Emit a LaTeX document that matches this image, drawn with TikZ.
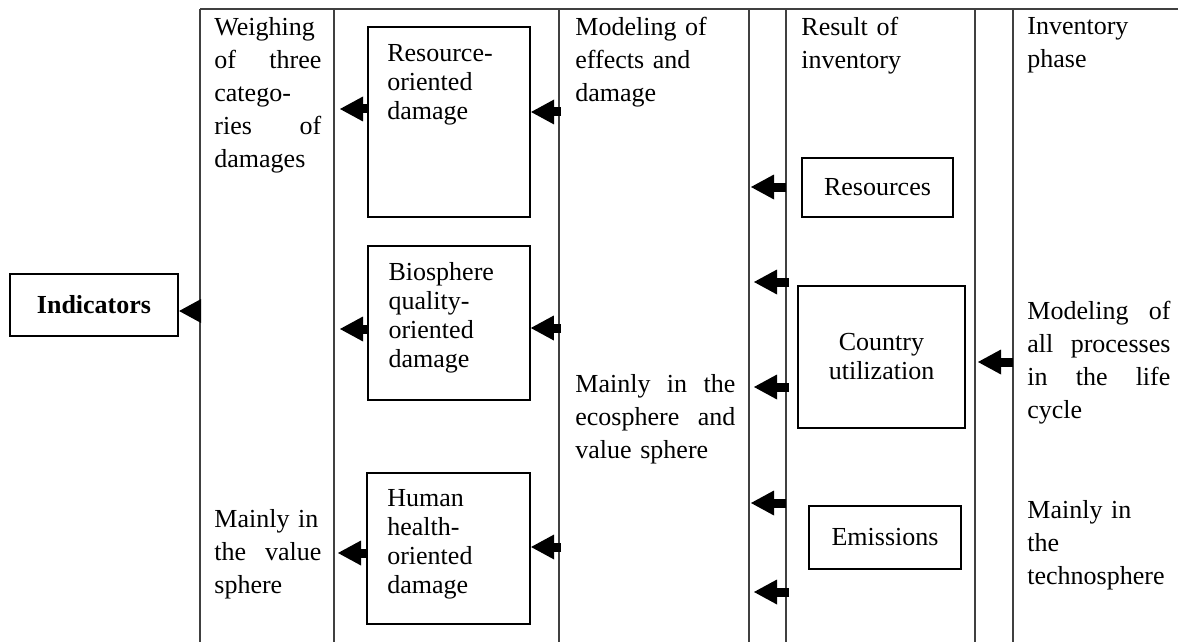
\documentclass[tikz,border=0pt]{standalone}
\usepackage{fontspec}
\setmainfont{Liberation Serif}
\usepackage{tikz}
\usetikzlibrary{arrows.meta}
\setlength{\parindent}{0pt}

\begin{document}
\begin{tikzpicture}[x = 0.5pt, y = -0.5pt,
	coluna/.style  = {line width = 0.6pt, black!75},
	caixa/.style   = {draw, black, line width = 1.1pt, inner sep = 0pt, font = \fontsize{13}{14.5}\selectfont},
	texto/.style   = {anchor = north west, inner sep = 0pt, align = left, font = \fontsize{13}{16.5}\selectfont},
	textocx/.style = {anchor = north west, inner sep = 0pt, align = left, font = \fontsize{13}{14.5}\selectfont},
	seta/.style    = {line width = 4.5pt, -{Triangle[length = 11.5pt, width = 12.5pt, line width = 0pt]}},
	ponta/.style   = {line width = 0.1pt, -{Triangle[length = 11pt, width = 12pt, line width = 0pt]}}]

	\useasboundingbox (0, 0) rectangle (1178, 642);

	% Colunas
	\draw[coluna] ( 200, 9) -- (1178,   9);
	\draw[coluna] ( 200, 9) -- ( 200, 642);
	\draw[coluna] ( 334, 9) -- ( 334, 642);
	\draw[coluna] ( 559, 9) -- ( 559, 642);
	\draw[coluna] ( 749, 9) -- ( 749, 642);
	\draw[coluna] ( 786, 9) -- ( 786, 642);
	\draw[coluna] ( 975, 9) -- ( 975, 642);
	\draw[coluna] (1013, 9) -- (1013, 642);

	% Caixas
	\node[caixa, minimum width = 84pt,   minimum height = 31pt]   (ind) at (  94, 305)   {\bfseries Indicators};
	\node[caixa, minimum width = 81pt,   minimum height = 95pt]   (res) at ( 449, 122)   {};
	\node[caixa, minimum width = 80.75pt, minimum height = 77pt]  (bio) at ( 449, 323)   {};
	\node[caixa, minimum width = 81.5pt, minimum height = 75.5pt] (hum) at ( 448.5, 548.5) {};
	\node[caixa, minimum width = 75.5pt, minimum height = 29.5pt] (rsc) at ( 877.5, 187.5) {Resources};
	\node[caixa, minimum width = 83.5pt, minimum height = 71pt, align = center] (cty) at ( 881.5, 357) {Country\\utilization};
	\node[caixa, minimum width = 76pt,   minimum height = 31.5pt] (ems) at ( 885, 537.5) {Emissions};

	\node[textocx] (restxt) at ([shift = {(20, 18)}]res.north west) {Resource-\\oriented\\damage};
	\node[textocx] (biotxt) at ([shift = {(21, 17)}]bio.north west) {Biosphere\\quality-\\oriented\\damage};
	\node[textocx] (humtxt) at ([shift = {(21, 17)}]hum.north west) {Human\\health-\\oriented\\damage};

	% Textos das colunas
	\node[texto, text width = 53.5pt] (wgh) at ( 214,  17) {Weighing\\of\hfill three\\catego-\\ries\hfill of\\damages};
	\node[texto, text width = 53.5pt] (val) at ( 214, 509) {Mainly in\\the\hfill value\\sphere};
	\node[texto, text width = 80pt]   (mod) at ( 575,  17) {Modeling of\\effects and\\damage};
	\node[texto, text width = 80pt]   (eco) at ( 575, 374) {Mainly\hfill in\hfill the\\ecosphere\hfill and\\value sphere};
	\node[texto, text width = 70pt]   (rin) at ( 801,  17) {Result of\\inventory};
	\node[texto, text width = 70pt]   (inv) at (1027,  17) {Inventory\\phase};
	\node[texto, text width = 71.5pt] (prc) at (1027, 301) {Modeling\hfill of\\all\hfill processes\\in\hfill the\hfill life\\cycle};
	\node[texto, text width = 71.5pt] (tec) at (1027, 500) {Mainly in\\the\\technosphere};

	% Setas
	\coordinate (i1) at ( 200, 311);
	\draw[ponta] (i1) -- (ind.east |- i1);

	\coordinate (a1) at ( 340, 109);
	\coordinate (a2) at ( 340, 329);
	\coordinate (a3) at ( 338, 553);
	\draw[seta] (res.west |- a1) -- (a1);
	\draw[seta] (bio.west |- a2) -- (a2);
	\draw[seta] (hum.west |- a3) -- (a3);

	\coordinate (b1) at ( 561, 112);
	\coordinate (b2) at ( 561, 328);
	\coordinate (b3) at ( 561, 547);
	\draw[seta] (b1) -- (res.east |- b1);
	\draw[seta] (b2) -- (bio.east |- b2);
	\draw[seta] (b3) -- (hum.east |- b3);

	\foreach \n/\y/\x in {1/187/786, 2/282/789, 3/387/789, 4/503/786, 5/592/789}
	{
		\coordinate (m\n) at (\x, \y);
		\draw[seta] (m\n) -- ++(-35, 0);
	}

	\coordinate (r1) at (1013, 362);
	\draw[seta] (r1) -- ++(-35, 0);

\end{tikzpicture}
\end{document}
